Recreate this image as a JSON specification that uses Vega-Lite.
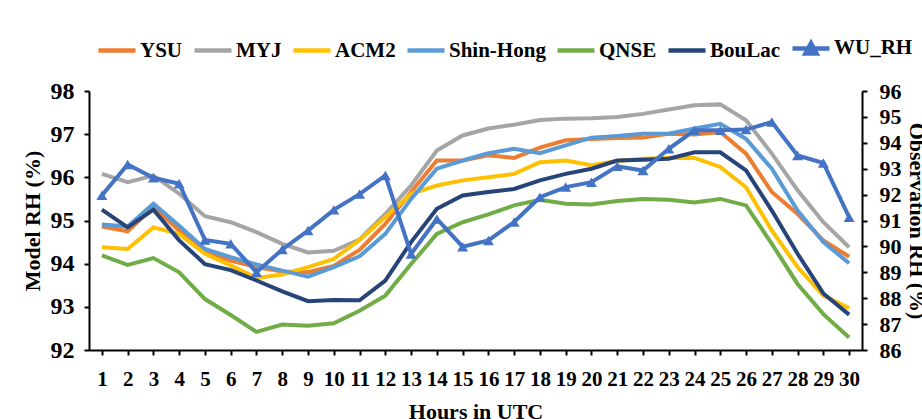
{
  "$schema": "https://vega.github.io/schema/vega-lite/v6.json",
  "width": 773,
  "height": 259,
  "autosize": "none",
  "padding": {"left": 89, "top": 91, "right": 60, "bottom": 69},
  "background": "white",
  "config": {"view": {"stroke": null}, "font": "Liberation Serif"},
  "data": {"values": [
    {"hour":1,"series":"YSU","rh":94.86},{"hour":2,"series":"YSU","rh":94.75},{"hour":3,"series":"YSU","rh":95.31},{"hour":4,"series":"YSU","rh":94.77},{"hour":5,"series":"YSU","rh":94.26},{"hour":6,"series":"YSU","rh":94.07},{"hour":7,"series":"YSU","rh":93.92},{"hour":8,"series":"YSU","rh":93.82},{"hour":9,"series":"YSU","rh":93.8},{"hour":10,"series":"YSU","rh":93.95},{"hour":11,"series":"YSU","rh":94.32},{"hour":12,"series":"YSU","rh":94.92},{"hour":13,"series":"YSU","rh":95.66},{"hour":14,"series":"YSU","rh":96.39},{"hour":15,"series":"YSU","rh":96.39},{"hour":16,"series":"YSU","rh":96.51},{"hour":17,"series":"YSU","rh":96.45},{"hour":18,"series":"YSU","rh":96.69},{"hour":19,"series":"YSU","rh":96.86},{"hour":20,"series":"YSU","rh":96.89},{"hour":21,"series":"YSU","rh":96.91},{"hour":22,"series":"YSU","rh":96.92},{"hour":23,"series":"YSU","rh":97.01},{"hour":24,"series":"YSU","rh":96.99},{"hour":25,"series":"YSU","rh":97.05},{"hour":26,"series":"YSU","rh":96.55},{"hour":27,"series":"YSU","rh":95.66},{"hour":28,"series":"YSU","rh":95.15},{"hour":29,"series":"YSU","rh":94.54},{"hour":30,"series":"YSU","rh":94.16},
    {"hour":1,"series":"MYJ","rh":96.08},{"hour":2,"series":"MYJ","rh":95.89},{"hour":3,"series":"MYJ","rh":96.04},{"hour":4,"series":"MYJ","rh":95.62},{"hour":5,"series":"MYJ","rh":95.1},{"hour":6,"series":"MYJ","rh":94.96},{"hour":7,"series":"MYJ","rh":94.73},{"hour":8,"series":"MYJ","rh":94.46},{"hour":9,"series":"MYJ","rh":94.26},{"hour":10,"series":"MYJ","rh":94.3},{"hour":11,"series":"MYJ","rh":94.56},{"hour":12,"series":"MYJ","rh":95.15},{"hour":13,"series":"MYJ","rh":95.81},{"hour":14,"series":"MYJ","rh":96.62},{"hour":15,"series":"MYJ","rh":96.97},{"hour":16,"series":"MYJ","rh":97.13},{"hour":17,"series":"MYJ","rh":97.22},{"hour":18,"series":"MYJ","rh":97.33},{"hour":19,"series":"MYJ","rh":97.36},{"hour":20,"series":"MYJ","rh":97.37},{"hour":21,"series":"MYJ","rh":97.4},{"hour":22,"series":"MYJ","rh":97.47},{"hour":23,"series":"MYJ","rh":97.57},{"hour":24,"series":"MYJ","rh":97.67},{"hour":25,"series":"MYJ","rh":97.69},{"hour":26,"series":"MYJ","rh":97.32},{"hour":27,"series":"MYJ","rh":96.55},{"hour":28,"series":"MYJ","rh":95.7},{"hour":29,"series":"MYJ","rh":94.96},{"hour":30,"series":"MYJ","rh":94.38},
    {"hour":1,"series":"ACM2","rh":94.38},{"hour":2,"series":"ACM2","rh":94.34},{"hour":3,"series":"ACM2","rh":94.84},{"hour":4,"series":"ACM2","rh":94.69},{"hour":5,"series":"ACM2","rh":94.23},{"hour":6,"series":"ACM2","rh":93.96},{"hour":7,"series":"ACM2","rh":93.67},{"hour":8,"series":"ACM2","rh":93.75},{"hour":9,"series":"ACM2","rh":93.92},{"hour":10,"series":"ACM2","rh":94.11},{"hour":11,"series":"ACM2","rh":94.55},{"hour":12,"series":"ACM2","rh":95.08},{"hour":13,"series":"ACM2","rh":95.62},{"hour":14,"series":"ACM2","rh":95.81},{"hour":15,"series":"ACM2","rh":95.93},{"hour":16,"series":"ACM2","rh":96.0},{"hour":17,"series":"ACM2","rh":96.08},{"hour":18,"series":"ACM2","rh":96.35},{"hour":19,"series":"ACM2","rh":96.39},{"hour":20,"series":"ACM2","rh":96.28},{"hour":21,"series":"ACM2","rh":96.38},{"hour":22,"series":"ACM2","rh":96.43},{"hour":23,"series":"ACM2","rh":96.45},{"hour":24,"series":"ACM2","rh":96.45},{"hour":25,"series":"ACM2","rh":96.24},{"hour":26,"series":"ACM2","rh":95.77},{"hour":27,"series":"ACM2","rh":94.77},{"hour":28,"series":"ACM2","rh":93.92},{"hour":29,"series":"ACM2","rh":93.26},{"hour":30,"series":"ACM2","rh":92.97},
    {"hour":1,"series":"Shin-Hong","rh":94.91},{"hour":2,"series":"Shin-Hong","rh":94.86},{"hour":3,"series":"Shin-Hong","rh":95.39},{"hour":4,"series":"Shin-Hong","rh":94.88},{"hour":5,"series":"Shin-Hong","rh":94.34},{"hour":6,"series":"Shin-Hong","rh":94.15},{"hour":7,"series":"Shin-Hong","rh":93.98},{"hour":8,"series":"Shin-Hong","rh":93.84},{"hour":9,"series":"Shin-Hong","rh":93.7},{"hour":10,"series":"Shin-Hong","rh":93.92},{"hour":11,"series":"Shin-Hong","rh":94.17},{"hour":12,"series":"Shin-Hong","rh":94.69},{"hour":13,"series":"Shin-Hong","rh":95.5},{"hour":14,"series":"Shin-Hong","rh":96.2},{"hour":15,"series":"Shin-Hong","rh":96.39},{"hour":16,"series":"Shin-Hong","rh":96.56},{"hour":17,"series":"Shin-Hong","rh":96.66},{"hour":18,"series":"Shin-Hong","rh":96.56},{"hour":19,"series":"Shin-Hong","rh":96.74},{"hour":20,"series":"Shin-Hong","rh":96.92},{"hour":21,"series":"Shin-Hong","rh":96.96},{"hour":22,"series":"Shin-Hong","rh":97.01},{"hour":23,"series":"Shin-Hong","rh":97.01},{"hour":24,"series":"Shin-Hong","rh":97.13},{"hour":25,"series":"Shin-Hong","rh":97.24},{"hour":26,"series":"Shin-Hong","rh":96.89},{"hour":27,"series":"Shin-Hong","rh":96.2},{"hour":28,"series":"Shin-Hong","rh":95.23},{"hour":29,"series":"Shin-Hong","rh":94.5},{"hour":30,"series":"Shin-Hong","rh":94.01},
    {"hour":1,"series":"QNSE","rh":94.19},{"hour":2,"series":"QNSE","rh":93.97},{"hour":3,"series":"QNSE","rh":94.13},{"hour":4,"series":"QNSE","rh":93.8},{"hour":5,"series":"QNSE","rh":93.18},{"hour":6,"series":"QNSE","rh":92.81},{"hour":7,"series":"QNSE","rh":92.42},{"hour":8,"series":"QNSE","rh":92.59},{"hour":9,"series":"QNSE","rh":92.56},{"hour":10,"series":"QNSE","rh":92.62},{"hour":11,"series":"QNSE","rh":92.91},{"hour":12,"series":"QNSE","rh":93.26},{"hour":13,"series":"QNSE","rh":93.99},{"hour":14,"series":"QNSE","rh":94.69},{"hour":15,"series":"QNSE","rh":94.96},{"hour":16,"series":"QNSE","rh":95.14},{"hour":17,"series":"QNSE","rh":95.35},{"hour":18,"series":"QNSE","rh":95.48},{"hour":19,"series":"QNSE","rh":95.39},{"hour":20,"series":"QNSE","rh":95.37},{"hour":21,"series":"QNSE","rh":95.45},{"hour":22,"series":"QNSE","rh":95.5},{"hour":23,"series":"QNSE","rh":95.48},{"hour":24,"series":"QNSE","rh":95.42},{"hour":25,"series":"QNSE","rh":95.5},{"hour":26,"series":"QNSE","rh":95.35},{"hour":27,"series":"QNSE","rh":94.46},{"hour":28,"series":"QNSE","rh":93.53},{"hour":29,"series":"QNSE","rh":92.83},{"hour":30,"series":"QNSE","rh":92.29},
    {"hour":1,"series":"BouLac","rh":95.25},{"hour":2,"series":"BouLac","rh":94.84},{"hour":3,"series":"BouLac","rh":95.25},{"hour":4,"series":"BouLac","rh":94.54},{"hour":5,"series":"BouLac","rh":93.99},{"hour":6,"series":"BouLac","rh":93.85},{"hour":7,"series":"BouLac","rh":93.61},{"hour":8,"series":"BouLac","rh":93.36},{"hour":9,"series":"BouLac","rh":93.13},{"hour":10,"series":"BouLac","rh":93.16},{"hour":11,"series":"BouLac","rh":93.15},{"hour":12,"series":"BouLac","rh":93.61},{"hour":13,"series":"BouLac","rh":94.5},{"hour":14,"series":"BouLac","rh":95.27},{"hour":15,"series":"BouLac","rh":95.58},{"hour":16,"series":"BouLac","rh":95.66},{"hour":17,"series":"BouLac","rh":95.73},{"hour":18,"series":"BouLac","rh":95.93},{"hour":19,"series":"BouLac","rh":96.08},{"hour":20,"series":"BouLac","rh":96.2},{"hour":21,"series":"BouLac","rh":96.39},{"hour":22,"series":"BouLac","rh":96.41},{"hour":23,"series":"BouLac","rh":96.43},{"hour":24,"series":"BouLac","rh":96.58},{"hour":25,"series":"BouLac","rh":96.58},{"hour":26,"series":"BouLac","rh":96.16},{"hour":27,"series":"BouLac","rh":95.23},{"hour":28,"series":"BouLac","rh":94.23},{"hour":29,"series":"BouLac","rh":93.31},{"hour":30,"series":"BouLac","rh":92.82},
    {"hour":1,"series":"WU_RH","rh":91.97},{"hour":2,"series":"WU_RH","rh":93.16},{"hour":3,"series":"WU_RH","rh":92.65},{"hour":4,"series":"WU_RH","rh":92.42},{"hour":5,"series":"WU_RH","rh":90.25},{"hour":6,"series":"WU_RH","rh":90.1},{"hour":7,"series":"WU_RH","rh":89.0},{"hour":8,"series":"WU_RH","rh":89.88},{"hour":9,"series":"WU_RH","rh":90.61},{"hour":10,"series":"WU_RH","rh":91.41},{"hour":11,"series":"WU_RH","rh":92.02},{"hour":12,"series":"WU_RH","rh":92.74},{"hour":13,"series":"WU_RH","rh":89.71},{"hour":14,"series":"WU_RH","rh":91.06},{"hour":15,"series":"WU_RH","rh":89.99},{"hour":16,"series":"WU_RH","rh":90.23},{"hour":17,"series":"WU_RH","rh":90.94},{"hour":18,"series":"WU_RH","rh":91.9},{"hour":19,"series":"WU_RH","rh":92.29},{"hour":20,"series":"WU_RH","rh":92.48},{"hour":21,"series":"WU_RH","rh":93.09},{"hour":22,"series":"WU_RH","rh":92.93},{"hour":23,"series":"WU_RH","rh":93.77},{"hour":24,"series":"WU_RH","rh":94.48},{"hour":25,"series":"WU_RH","rh":94.48},{"hour":26,"series":"WU_RH","rh":94.51},{"hour":27,"series":"WU_RH","rh":94.8},{"hour":28,"series":"WU_RH","rh":93.51},{"hour":29,"series":"WU_RH","rh":93.22},{"hour":30,"series":"WU_RH","rh":91.13}
  ]},
  "encoding": {
    "x": {
      "field": "hour", "type": "quantitative",
      "scale": {"domain": [0.5, 30.5], "nice": false, "zero": false},
      "axis": {
        "title": "Hours in UTC",
        "values": [1,2,3,4,5,6,7,8,9,10,11,12,13,14,15,16,17,18,19,20,21,22,23,24,25,26,27,28,29,30],
        "format": "d", "grid": false, "labelOverlap": false, "labelFlush": false,
        "labelFont": "Liberation Serif", "labelFontWeight": "bold", "labelFontSize": 21, "labelColor": "black", "labelPadding": 13,
        "domainColor": "black", "domainWidth": 2, "tickColor": "black", "tickWidth": 2, "tickSize": 5,
        "titleFont": "Liberation Serif", "titleFontWeight": "bold", "titleFontSize": 22, "titleColor": "black", "titlePadding": 12
      }
    },
    "color": {
      "field": "series", "type": "nominal",
      "scale": {
        "domain": ["YSU", "MYJ", "ACM2", "Shin-Hong", "QNSE", "BouLac", "WU_RH"],
        "range": ["#ED7D31", "#A5A5A5", "#FFC000", "#5B9BD5", "#70AD47", "#264478", "#4472C4"]
      },
      "legend": {
        "title": null, "orient": "none", "direction": "horizontal", "legendX": 7, "legendY": -64,
        "symbolType": "stroke", "symbolSize": 1369, "symbolStrokeWidth": 4.5,
        "labelFont": "Liberation Serif", "labelFontWeight": "bold", "labelFontSize": 21, "labelColor": "black",
        "labelOffset": 2, "columnPadding": 2, "labelLimit": 300,
        "encode": {
          "symbols": {
            "update": {
              "shape": {"signal": "datum.value === 'WU_RH' ? 'M-1,0L1,0M-0.3,0.28L0,-0.28L0.3,0.28Z' : 'stroke'"},
              "fill": {"signal": "datum.value === 'WU_RH' ? '#4472C4' : 'transparent'"}
            }
          }
        }
      }
    }
  },
  "layer": [
    {
      "transform": [{"filter": "datum.series !== 'WU_RH'"}],
      "mark": {"type": "line", "strokeWidth": 4},
      "encoding": {
        "y": {
          "field": "rh", "type": "quantitative",
          "scale": {"domain": [92, 98], "nice": false, "zero": false},
          "axis": {
            "orient": "left", "title": "Model RH (%)", "values": [92,93,94,95,96,97,98], "grid": false,
            "labelFont": "Liberation Serif", "labelFontWeight": "bold", "labelFontSize": 24, "labelColor": "black", "labelPadding": 10,
            "domainColor": "black", "domainWidth": 2, "tickColor": "black", "tickWidth": 2, "tickSize": 5,
            "titleFont": "Liberation Serif", "titleFontWeight": "bold", "titleFontSize": 22, "titleColor": "black", "titlePadding": 6
          }
        },
        "detail": {"field": "series"}
      }
    },
    {
      "transform": [{"filter": "datum.series === 'WU_RH'"}],
      "mark": {"type": "line", "strokeWidth": 4, "point": {"filled": true, "shape": "triangle-up", "size": 120, "color": "#4472C4"}},
      "encoding": {
        "y": {
          "field": "rh", "type": "quantitative",
          "scale": {"domain": [86, 96], "nice": false, "zero": false},
          "axis": {
            "orient": "right", "title": "Observation RH (%)", "values": [86,87,88,89,90,91,92,93,94,95,96], "grid": false,
            "labelFont": "Liberation Serif", "labelFontWeight": "bold", "labelFontSize": 22, "labelColor": "black", "labelPadding": 12,
            "domainColor": "black", "domainWidth": 2, "tickColor": "black", "tickWidth": 2, "tickSize": 5,
            "titleFont": "Liberation Serif", "titleFontWeight": "bold", "titleFontSize": 22, "titleColor": "black", "titlePadding": 3
          }
        }
      }
    }
  ],
  "resolve": {"scale": {"y": "independent"}}
}
